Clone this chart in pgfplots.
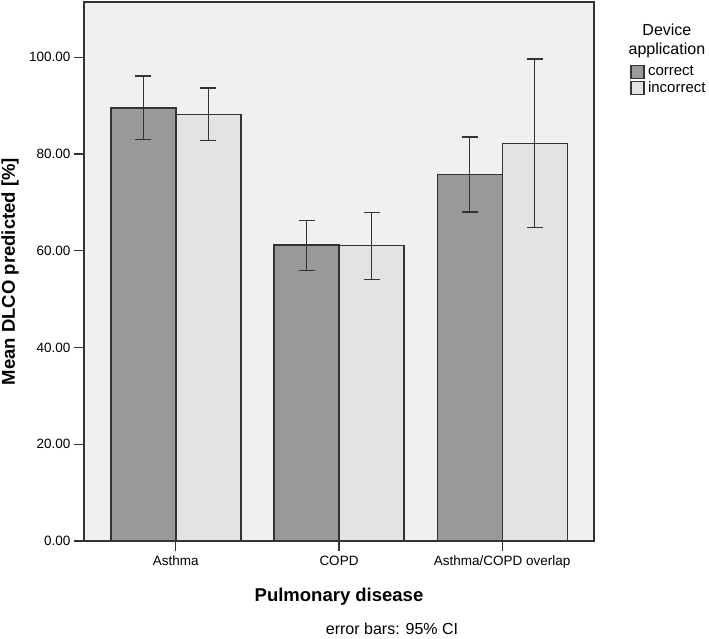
\documentclass[border=0pt]{standalone}
\usepackage{fontspec}
\setmainfont{Liberation Sans}
\usepackage{pgfplots}
\usepackage{pgfplotstable}
\pgfplotsset{compat=1.18}

\definecolor{bgc}{HTML}{F0F0F0}
\definecolor{corr}{HTML}{999999}
\definecolor{incorr}{HTML}{E3E3E3}
\definecolor{edge}{HTML}{333333}

% mean, CI upper offset, CI lower offset
\pgfplotstableread{
x y ep em
0 89.5 6.6 6.5
1 61.2 5.1 5.3
2 75.8 7.7 7.8
}\correcttab
\pgfplotstableread{
x y ep em
0 88.2 5.4 5.4
1 61.0 6.9 6.9
2 82.2 17.4 17.4
}\incorrecttab

\begin{document}
\begin{tikzpicture}
\useasboundingbox (0,0) rectangle (709pt,639pt);
\begin{axis}[
	at={(84pt,98pt)}, anchor=south west,
	scale only axis,
	width=510pt, height=539pt,
	ybar=0pt,
	bar width=65pt,
	xmin=-0.563, xmax=2.563,
	ymin=0, ymax=111.4,
	axis background/.style={fill=bgc},
	axis line style={edge, line width=1.2pt},
	tick style={edge, line width=1.2pt},
	tick align=outside,
	major tick length=10pt,
	xtick pos=bottom, ytick pos=left,
	xtick={0,1,2},
	xticklabels={Asthma, COPD, Asthma/COPD overlap},
	ytick={0,20,...,100},
	yticklabel style={/pgf/number format/.cd, fixed, fixed zerofill, precision=2, assume math mode=true},
	tick label style={font=\fontsize{13.5}{15}\selectfont},
	xticklabel style={yshift=-1.5pt},
	every axis y label/.style={at={(axis description cs:-0.145,0.5)}, rotate=90, anchor=center},
	every axis x label/.style={at={(axis description cs:0.5,-0.104)}, anchor=center},
	label style={font=\fontsize{18.5}{22}\selectfont\bfseries},
	xlabel={Pulmonary disease},
	ylabel={Mean DLCO predicted [\%]},
	legend style={at={(axis description cs:1.071,0.884)}, anchor=north west,
		draw=none, fill=none, inner sep=0pt, row sep=1.5pt,
		font=\fontsize{15}{17}\selectfont,
		nodes={inner sep=1.5pt},
		/tikz/every odd column/.append style={column sep=2pt}},
	legend cell align=left,
	legend image code/.code={\draw[#1, line width=1.1pt] (0pt,-6.5pt) rectangle (13pt,6.5pt);},
	error bars/error bar style={line width=1.3pt, edge},
	error bars/error mark options={rotate=90, mark size=8pt, line width=1.3pt, edge},
	clip=false,
]
\addplot[fill=corr, draw=edge, line width=1.3pt,
	error bars/.cd, y dir=both, y explicit]
	table[x=x, y=y, y error plus=ep, y error minus=em] {\correcttab};
\addplot[fill=incorr, draw=edge, line width=1.3pt,
	error bars/.cd, y dir=both, y explicit]
	table[x=x, y=y, y error plus=ep, y error minus=em] {\incorrecttab};
\legend{correct, incorrect}

\node[align=center, font=\fontsize{16}{18.5}\selectfont] at (axis description cs:1.143,0.928) {Device\\application};
\node[font=\fontsize{16}{18}\selectfont] at (axis description cs:0.604,-0.163) {error bars: 95\% CI};
\end{axis}
\end{tikzpicture}
\end{document}
